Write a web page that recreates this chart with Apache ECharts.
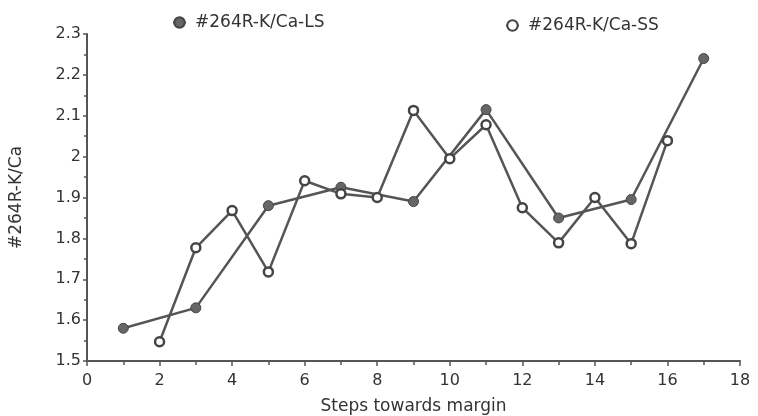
<!DOCTYPE html>
<html>
<head>
<meta charset="utf-8">
<script src="https://cdn.jsdelivr.net/npm/echarts@6/dist/echarts.min.js"></script>
<style>
  html, body { margin: 0; padding: 0; background: #fff; }
  #main { width: 758px; height: 416px; }
</style>
</head>
<body>
<div id="main"></div>
<script>
// values
const lsSteps = [1, 3, 5, 7, 9, 11, 13, 15, 17];
const lsValues = [1.58, 1.63, 1.88, 1.925, 1.89, 2.115, 1.85, 1.895, 2.24];
const ssSteps = [2, 3, 4, 5, 6, 7, 8, 9, 10, 11, 12, 13, 14, 15, 16];
const ssValues = [1.547, 1.777, 1.868, 1.718, 1.941, 1.909, 1.9, 2.113, 1.995, 2.078, 1.875, 1.789, 1.9, 1.787, 2.039];
const seriesNames = ['#264R-K/Ca-LS', '#264R-K/Ca-SS'];

const grey = '#555';
const font = 'DejaVu Sans';

const chart = echarts.init(document.getElementById('main'));

chart.setOption({
  animation: false,
  textStyle: { fontFamily: font },
  legend: [
    {
      data: [seriesNames[0]],
      left: 167, top: 9,
      itemWidth: 13, itemHeight: 13, itemGap: 6,
      textStyle: { fontSize: 17, color: '#333', fontFamily: font, padding: [0, 0, 0, 4] }
    },
    {
      data: [seriesNames[1]],
      left: 500, top: 12,
      itemWidth: 13, itemHeight: 13,
      textStyle: { fontSize: 17, color: '#333', fontFamily: font, padding: [0, 0, 0, 4] }
    }
  ],
  grid: { left: 87, right: 18, top: 34, bottom: 55, outerBoundsMode: 'none', containLabel: false },
  xAxis: {
    type: 'value',
    min: 0, max: 18, interval: 2,
    name: 'Steps towards margin',
    nameLocation: 'middle',
    nameGap: 37,
    nameTextStyle: { fontSize: 17, color: '#333' },
    axisLine: { lineStyle: { color: grey, width: 2 } },
    axisTick: { length: 5, lineStyle: { color: grey, width: 1.5 } },
    minorTick: { show: true, splitNumber: 2, length: 4, lineStyle: { color: grey, width: 1.5 } },
    axisLabel: { fontSize: 16, color: '#333', margin: 12 },
    splitLine: { show: false }
  },
  yAxis: {
    type: 'value',
    min: 1.5, max: 2.3, interval: 0.1,
    name: '#264R-K/Ca',
    nameLocation: 'middle',
    nameGap: 62,
    nameTextStyle: { fontSize: 17, color: '#333' },
    axisLine: { show: true, lineStyle: { color: grey, width: 2 } },
    axisTick: { show: true, length: 4, lineStyle: { color: grey, width: 1.5 } },
    minorTick: { show: true, splitNumber: 2, length: 3, lineStyle: { color: grey, width: 1.5 } },
    axisLabel: {
      fontSize: 16, color: '#333', margin: 6,
      formatter: v => String(Math.round(v * 10) / 10)
    },
    splitLine: { show: false }
  },
  series: [
    {
      name: seriesNames[0],
      type: 'line',
      data: lsSteps.map((s, i) => [s, lsValues[i]]),
      symbol: 'circle',
      symbolSize: 10,
      itemStyle: { color: '#666', borderColor: '#444', borderWidth: 1 },
      lineStyle: { color: grey, width: 2.5 },
      z: 2
    },
    {
      name: seriesNames[1],
      type: 'line',
      data: ssSteps.map((s, i) => [s, ssValues[i]]),
      symbol: 'circle',
      symbolSize: 9,
      itemStyle: { color: '#fff', borderColor: '#444', borderWidth: 2.5 },
      lineStyle: { color: grey, width: 2.5 },
      z: 3
    }
  ]
});
</script>
</body>
</html>
